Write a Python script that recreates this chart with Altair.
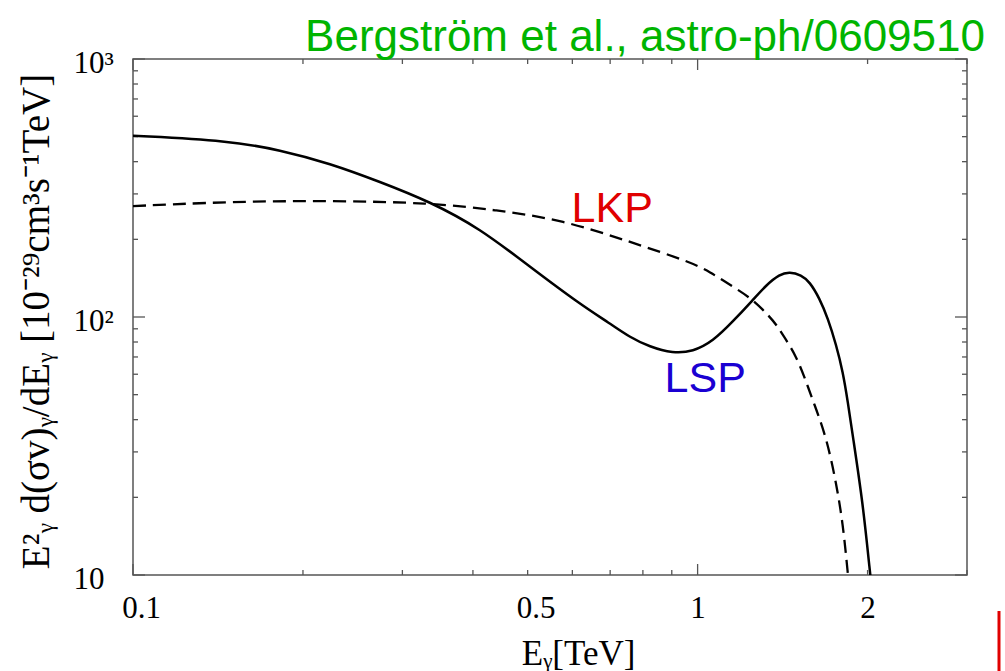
import altair as alt
import pandas as pd

# Photon spectra E^2 d(sigma v)/dE versus photon energy (TeV)
lsp_energy = [0.1, 0.1485, 0.182, 0.2233, 0.2736, 0.3356, 0.4113, 0.5044, 0.6184,
              0.699, 0.758, 0.822, 0.904, 0.981, 1.064, 1.155, 1.253, 1.323, 1.397,
              1.455, 1.526, 1.579, 1.644, 1.701, 1.76, 1.808, 1.845, 1.883, 1.962,
              2.02, 2.047]
lsp_flux = [504, 482, 444, 394, 334.5, 280, 220.7, 156.7, 112.3,
            94.5, 83.5, 76.7, 72.3, 73.4, 80.4, 96.1, 116.4, 133, 146.4,
            149.8, 145.5, 137, 118.2, 98.9, 77.9, 61.4, 47, 34.6, 19.0,
            10.2, 7.8]

lkp_energy = [0.1, 0.1485, 0.2233, 0.3356, 0.44, 0.5775, 0.758, 0.968, 1.05,
              1.155, 1.253, 1.341, 1.378, 1.416, 1.495, 1.557, 1.6, 1.69, 1.76,
              1.808, 1.845, 1.866]
lkp_flux = [269, 280, 282.4, 277.3, 259.8, 237.7, 195.8, 163.8, 149.8,
            131, 117, 100.3, 93.5, 85.2, 70.7, 56.1, 47.5, 34.4, 22.7,
            15.9, 10.2, 7.8]

# axis ticks and labels
x_labels = [0.1, 0.5, 1, 2]
x_major = [0.1, 1]
x_minor = [0.2, 0.3, 0.4, 0.5, 0.6, 0.7, 0.8, 0.9, 2, 3]
y_labels = [10, 100, 1000]
y_major = [10, 100, 1000]
y_minor = [20, 30, 40, 50, 60, 70, 80, 90, 200, 300, 400, 500, 600, 700, 800, 900]

# curve annotations
ann_text = ["LKP", "LSP"]
ann_energy = [0.598, 0.874]
ann_flux = [234, 51.3]
ann_color = ["#e00000", "#1a00d2"]

source_note = "Bergström et al., astro-ph/0609510"

W, H = 834, 516
SERIF = "Liberation Serif"
SANS = "Liberation Sans"
FRAME = "#555555"

xscale = alt.Scale(type="log", domain=[0.1, 3], nice=False, clamp=False)
yscale = alt.Scale(type="log", domain=[10, 1000], nice=False, clamp=False)

xaxis = alt.Axis(values=x_labels, format="~g", ticks=False, domain=False, grid=False,
                 labelOffset={"condition": {"test": "datum.value < 0.8", "value": 8}, "value": 0},
                 labelFont=SERIF, labelFontSize=31, labelColor="black", labelPadding=18,
                 labelFlush=False,
                 title="Eᵧ[TeV]", titleFont=SERIF, titleFontSize=35, titleFontWeight="normal",
                 titleColor="black", titleX=445, titleY=89, titleAlign="center",
                 titleBaseline="alphabetic")
yaxis = alt.Axis(values=y_labels, ticks=False, domain=False, grid=False,
                 labelExpr="datum.value >= 1000 ? '10³' : datum.value >= 100 ? '10²' : '10'",
                 labelFont=SERIF, labelFontSize=31, labelColor="black", labelPadding=60,
                 labelAlign="left", labelBaseline="middle", labelOffset=4, labelFlush=False,
                 title="E²ᵧ  d(σv)ᵧ/dEᵧ  [10⁻²⁹cm³s⁻¹TeV]", titleFont=SERIF, titleFontSize=39,
                 titleFontWeight="normal", titleColor="black", titleAngle=-90,
                 titleX=-85, titleY=262, titleAlign="center", titleBaseline="alphabetic")

X = alt.X("E:Q", scale=xscale, axis=xaxis)
Y = alt.Y("F:Q", scale=yscale, axis=yaxis)

lsp_df = pd.DataFrame({"E": lsp_energy, "F": lsp_flux})
lkp_df = pd.DataFrame({"E": lkp_energy, "F": lkp_flux})

lsp_line = alt.Chart(lsp_df).mark_line(
    color="black", strokeWidth=2.5, interpolate="basis", clip=True
).encode(x=X, y=Y)

lkp_line = alt.Chart(lkp_df).mark_line(
    color="black", strokeWidth=2.3, strokeDash=[13, 7], interpolate="basis", clip=True
).encode(x=X, y=Y)

# inward ticks on all four sides of the frame
def xticks(vals, length):
    df = pd.DataFrame({"E": vals})
    bottom = alt.Chart(df).mark_rule(color=FRAME, strokeWidth=1.3).encode(
        x=X, y=alt.value(H), y2=alt.value(H - length))
    top = alt.Chart(df).mark_rule(color=FRAME, strokeWidth=1.3).encode(
        x=X, y=alt.value(0), y2=alt.value(length))
    return [bottom, top]


def yticks(vals, length):
    df = pd.DataFrame({"F": vals})
    left = alt.Chart(df).mark_rule(color=FRAME, strokeWidth=1.3).encode(
        y=Y, x=alt.value(0), x2=alt.value(length))
    right = alt.Chart(df).mark_rule(color=FRAME, strokeWidth=1.3).encode(
        y=Y, x=alt.value(W), x2=alt.value(W - length))
    return [left, right]


tick_layers = (xticks(x_major, 11) + xticks(x_minor, 5)
               + yticks(y_major, 12) + yticks(y_minor, 5))

ann_df = pd.DataFrame({"E": ann_energy, "F": ann_flux, "label": ann_text, "c": ann_color})
annotations = alt.Chart(ann_df).mark_text(
    font=SANS, fontSize=43, align="left", baseline="alphabetic"
).encode(x=X, y=Y, text="label:N", color=alt.Color("c:N", scale=None))

note = alt.Chart(pd.DataFrame({"label": [source_note]})).mark_text(
    font=SANS, fontSize=44, align="right", baseline="alphabetic", color="#00b400"
).encode(x=alt.value(852), y=alt.value(-8), text="label:N")

edge_mark = alt.Chart(pd.DataFrame({"k": [0]})).mark_rule(
    color="#e00000", strokeWidth=3
).encode(x=alt.value(866), y=alt.value(552), y2=alt.value(612))

chart = alt.layer(
    *tick_layers, lkp_line, lsp_line, annotations, note, edge_mark
).properties(
    width=W, height=H,
    autosize=alt.AutoSizeParams(type="none"),
    padding={"left": 133, "top": 59, "right": 38, "bottom": 96},
    background="white",
).configure_view(stroke=FRAME, strokeWidth=1.5)

chart.save("out.html", embed_options={"renderer": "svg", "actions": False})
